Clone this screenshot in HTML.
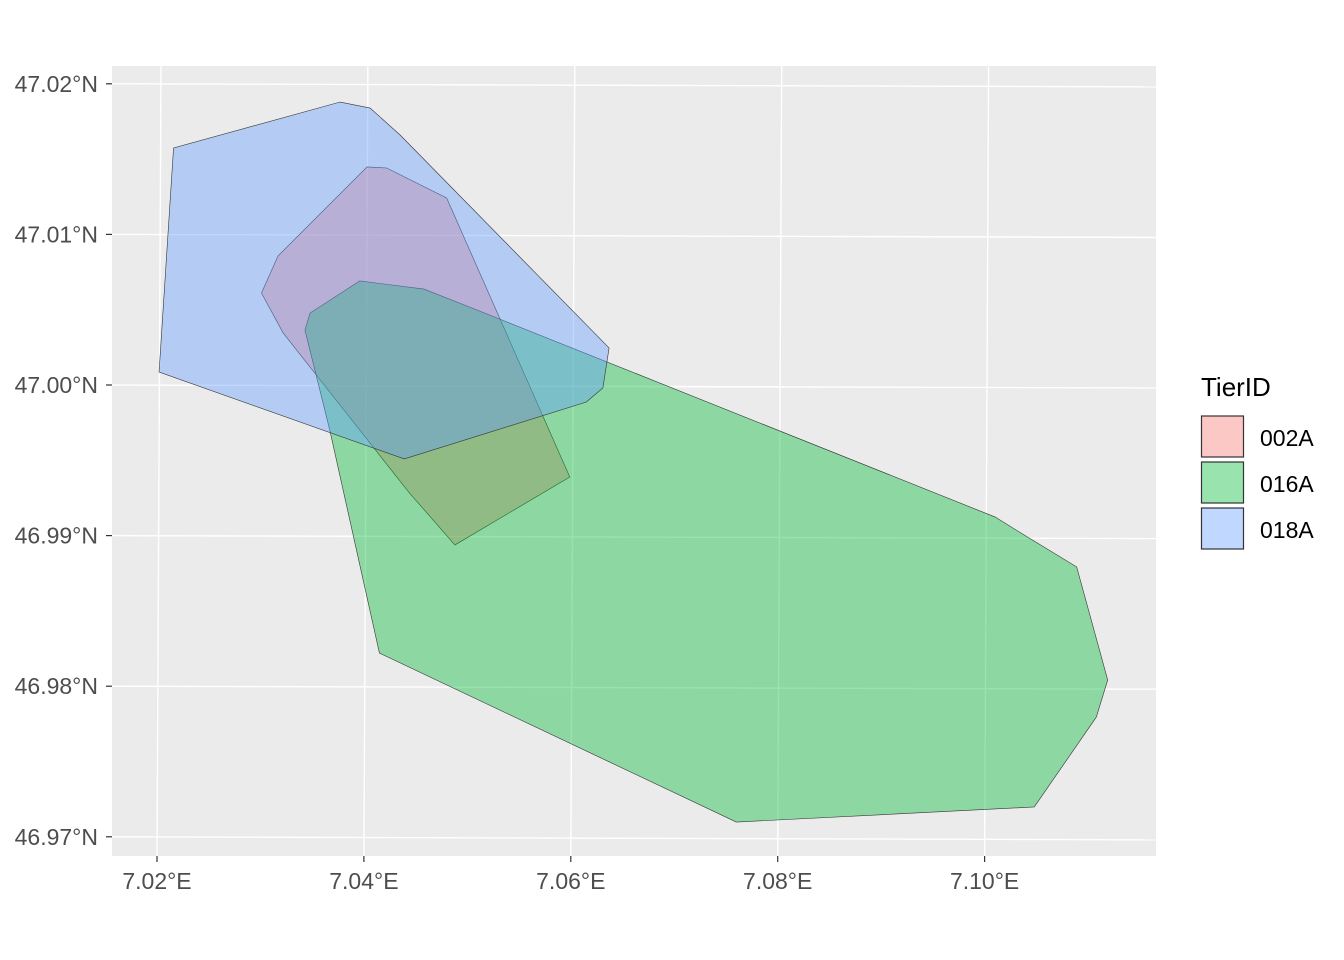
<!DOCTYPE html>
<html><head><meta charset="utf-8"><style>
body{margin:0;background:#fff;}
svg{display:block;font-family:"Liberation Sans",sans-serif;}
</style></head><body>
<svg id="chart" width="1344" height="960">
<rect x="0" y="0" width="1344" height="960" fill="#fff"/>
<rect x="112" y="66" width="1044" height="790" fill="#EBEBEB"/>
<g id="grid"></g>
<g id="polys"></g>
<g id="axes"></g>
<g>
<text x="1201" y="396" font-size="26" fill="#000">TierID</text>
<g id="legend"></g>
</g>
</svg>
<script>
const NS="http://www.w3.org/2000/svg";
const lonTicks=[7.02,7.04,7.06,7.08,7.10];
const lonLabels=["7.02°E","7.04°E","7.06°E","7.08°E","7.10°E"];
const latTicks=[47.02,47.01,47.00,46.99,46.98,46.97];
const latLabels=["47.02°N","47.01°N","47.00°N","46.99°N","46.98°N","46.97°N"];
const tierIds=["002A","016A","018A"];
const tierColors=["#F8766D","#00BA38","#619CFF"];
const lon002A=[7.0301,7.0317,7.0403,7.0422,7.0480,7.0599,7.0488,7.0444,7.0322];
const lat002A=[47.00611,47.00857,47.01448,47.01441,47.01242,46.99389,46.98938,46.99283,47.00345];
const lon016A=[7.0343,7.0348,7.0396,7.0458,7.0502,7.1010,7.1043,7.1089,7.1119,7.1108,7.1048,7.0760,7.0415,7.0367];
const lat016A=[47.00365,47.00478,47.00691,47.00637,47.00518,46.99124,46.98984,46.98792,46.98041,46.97795,46.97198,46.97098,46.98220,46.99701];
const lon018A=[7.0202,7.0216,7.0377,7.0406,7.0435,7.0637,7.0631,7.0615,7.0439];
const lat018A=[47.00086,47.01574,47.01879,47.01839,47.01660,47.00246,46.99980,46.99887,46.99509];
const lons=[lon002A,lon016A,lon018A], lats=[lat002A,lat016A,lat018A];
const X=v=>157+(v-7.02)*10345;
const Y=v=>385-(v-47.00)*15060;
function mk(tag,attrs,parent){const e=document.createElementNS(NS,tag);for(const k in attrs)e.setAttribute(k,attrs[k]);parent.appendChild(e);return e;}
const grid=document.getElementById('grid'),axes=document.getElementById('axes'),polys=document.getElementById('polys'),legend=document.getElementById('legend');
lonTicks.forEach((t,i)=>{const x=X(t);
 const l=mk('line',{x1:x+4,y1:66,x2:x,y2:856,stroke:'#fff','stroke-width':1.4},grid);
 
 
 const tk=mk('line',{x1:x,y1:856,x2:x,y2:862,stroke:'#333','stroke-width':1.2},axes);
 
 
 const tx=mk('text',{x:x,y:889,'font-size':23,fill:'#4D4D4D','text-anchor':'middle'},axes);tx.textContent=lonLabels[i];
 
 
});
latTicks.forEach((t,i)=>{const y=Y(t);
 const l=mk('line',{x1:112,y1:y,x2:1156,y2:y+3,stroke:'#fff','stroke-width':1.4},grid);
 
 
 const tk=mk('line',{x1:106,y1:y,x2:112,y2:y,stroke:'#333','stroke-width':1.2},axes);
 
 
 const tx=mk('text',{x:98,y:y+8,'font-size':23,fill:'#4D4D4D','text-anchor':'end'},axes);tx.textContent=latLabels[i];
 
 
});
tierIds.forEach((id,i)=>{
 const pts=lons[i].map((v,j)=>X(v)+','+Y(lats[i][j])).join(' ');
 const p=mk('polygon',{points:pts,fill:tierColors[i],'fill-opacity':0.4,stroke:'#333','stroke-width':0.6},polys);
 
 
 const y=416+i*46;
 const r=mk('rect',{x:1201.5,y:y,width:42,height:41,fill:tierColors[i],'fill-opacity':0.4,stroke:'#333','stroke-width':1.2},legend);
 
 
 const t=mk('text',{x:1260,y:y+30,'font-size':23,fill:'#000'},legend);t.textContent=id;
 
 
});
</script>
</body></html>
